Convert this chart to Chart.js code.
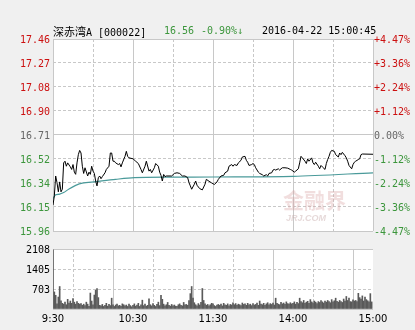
<!DOCTYPE html>
<html>
<head>
<meta charset="utf-8">
<script src="https://cdn.jsdelivr.net/npm/chart.js@4/dist/chart.umd.min.js"></script>
<style>
  html, body { margin: 0; padding: 0; background: #f0f0f0; }
  #wrap { position: relative; width: 415px; height: 330px; overflow: hidden; }
  canvas { position: absolute; left: 0; }
  #priceChart { top: 0; }
  #volChart { top: 240px; }
  .hd { position: absolute; top: 25px; font: 10px "DejaVu Sans Mono", monospace; line-height: 12px; white-space: nowrap; color: #000; }
  .cn { font-family: "Noto Sans CJK SC", sans-serif; font-size: 11px; }
  .dn { color: #3c963c; }
  .wm { position: absolute; pointer-events: none; white-space: nowrap; }
</style>
</head>
<body>
<div id="wrap">
  <canvas id="priceChart" width="415" height="240"></canvas>
  <canvas id="volChart" width="415" height="90"></canvas>
  <div class="hd" style="left:53px"><span class="cn">深赤湾</span>A [000022]</div>
  <div class="hd dn" style="left:164px">16.56</div>
  <div class="hd dn" style="left:201px">-0.90%↓</div>
  <div class="hd" style="left:262px">2016-04-22 15:00:45</div>
  <div class="wm" style="left:283px;top:184px;font:bold 21px 'Noto Sans CJK SC';color:rgba(215,160,160,0.35)">金融界</div>
  <div class="wm" style="left:286px;top:213px;font:italic bold 9px 'Liberation Sans';color:rgba(200,170,170,0.45)">JRJ.COM</div>
</div>
<script>
// 深赤湾A intraday, 2016-04-22, previous close 16.71 (+-4.47% range)
const priceMin = 15.963, priceMax = 17.457;
const volMax = 2108;

const priceTicks = ['17.46', '17.27', '17.08', '16.90', '16.71', '16.52', '16.34', '16.15', '15.96'];
const pctTicks = ['+4.47%', '+3.36%', '+2.24%', '+1.12%', '0.00%', '-1.12%', '-2.24%', '-3.36%', '-4.47%'];
const volTicks = ['2108', '1405', '703', ''];
const timeLabels = ['9:30', '10:30', '11:30', '14:00', '15:00'];

// minutes since 9:30 (lunch removed) and price
const priceMinutes = [0, 1, 2, 3, 4, 5, 6, 7, 8, 9, 10, 11, 13, 14, 15, 16, 17, 18, 19, 20,
  21, 22, 23, 24, 26, 27, 28, 29, 30, 31, 32, 33, 34, 35, 36, 37, 39, 40, 42, 43,
  44, 45, 46, 47, 49, 50, 51, 52, 54, 55, 56, 57, 60, 62, 64, 66, 67, 69, 70, 72,
  73, 74, 76, 77, 79, 80, 81, 82, 83, 84, 85, 89, 91, 93, 95, 97, 99, 101, 102, 103,
  104, 106, 107, 108, 110, 112, 114, 115, 117, 119, 121, 123, 124, 126, 128, 129, 131, 132, 134, 135,
  136, 138, 139, 141, 142, 144, 145, 146, 147, 149, 150, 151, 152, 154, 155, 157, 158, 160, 161, 162,
  164, 165, 166, 167, 169, 170, 171, 172, 174, 176, 178, 179, 181, 182, 184, 185, 186, 187, 189, 190,
  191, 192, 194, 195, 196, 197, 199, 200, 201, 202, 204, 205, 206, 207, 208, 209, 211, 212, 214, 215,
  216, 217, 219, 220, 221, 222, 224, 225, 226, 227, 229, 230, 231, 232, 240];
const priceValues = [16.165, 16.237, 16.391, 16.339, 16.268, 16.345, 16.268, 16.288, 16.493, 16.506, 16.467, 16.493, 16.462, 16.442, 16.480, 16.421, 16.404, 16.493, 16.557, 16.590,
  16.570, 16.467, 16.411, 16.455, 16.391, 16.421, 16.404, 16.467, 16.429, 16.411, 16.352, 16.314, 16.378, 16.391, 16.370, 16.386, 16.416, 16.442, 16.467, 16.570,
  16.570, 16.506, 16.506, 16.493, 16.480, 16.488, 16.462, 16.493, 16.544, 16.583, 16.544, 16.532, 16.525, 16.506, 16.488, 16.442, 16.416, 16.467, 16.506, 16.429,
  16.442, 16.416, 16.455, 16.488, 16.467, 16.421, 16.396, 16.352, 16.403, 16.386, 16.391, 16.391, 16.411, 16.416, 16.411, 16.391, 16.391, 16.378, 16.339, 16.314,
  16.288, 16.327, 16.352, 16.319, 16.293, 16.283, 16.327, 16.365, 16.350, 16.337, 16.325, 16.345, 16.365, 16.391, 16.396, 16.416, 16.429, 16.467, 16.480, 16.467,
  16.480, 16.473, 16.493, 16.513, 16.539, 16.544, 16.513, 16.498, 16.473, 16.480, 16.488, 16.480, 16.455, 16.421, 16.411, 16.401, 16.391, 16.401, 16.391, 16.411,
  16.416, 16.437, 16.442, 16.437, 16.447, 16.437, 16.447, 16.455, 16.455, 16.452, 16.442, 16.437, 16.421, 16.429, 16.447, 16.493, 16.544, 16.532, 16.506, 16.488,
  16.524, 16.506, 16.532, 16.493, 16.480, 16.498, 16.467, 16.447, 16.473, 16.462, 16.442, 16.488, 16.519, 16.544, 16.575, 16.590, 16.583, 16.557, 16.539, 16.570,
  16.557, 16.575, 16.549, 16.532, 16.506, 16.473, 16.447, 16.480, 16.498, 16.506, 16.519, 16.524, 16.557, 16.562, 16.560];

// average price line
const avgMinutes = [0, 2, 5, 8, 12, 17, 22, 32, 47, 61, 90, 120, 180, 240];
const avgValues = [16.215, 16.245, 16.25, 16.262, 16.29, 16.318, 16.335, 16.347, 16.365, 16.378, 16.382, 16.383, 16.388, 16.416];

// volume per minute, 9:30 onwards
const volumes = [
  2080, 600, 480, 180, 420, 790, 290, 200, 170, 240,
  150, 340, 210, 280, 200, 370, 240, 170, 260, 200,
  170, 190, 130, 170, 120, 240, 170, 90, 560, 280,
  150, 490, 660, 720, 400, 130, 110, 160, 90, 130,
  200, 100, 160, 120, 380, 150, 90, 140, 170, 110,
  130, 90, 180, 150, 110, 140, 90, 170, 120, 80,
  130, 180, 100, 140, 200, 90, 150, 310, 120, 170,
  100, 130, 360, 150, 110, 190, 130, 90, 160, 240,
  120, 480, 340, 170, 110, 150, 230, 130, 100, 160,
  110, 140, 100, 90, 150, 180, 130, 110, 230, 150,
  160, 130, 300, 540, 790, 380, 220, 150, 110, 190,
  140, 230, 720, 300, 180, 130, 160, 110, 150, 200,
  180, 120, 90, 140, 160, 130, 170, 110, 200, 150,
  130, 180, 110, 160, 140, 220, 150, 190, 130, 170,
  150, 120, 210, 160, 180, 130, 200, 150, 170, 120,
  190, 140, 160, 210, 130, 280, 170, 150, 200, 130,
  180, 220, 150, 190, 160, 210, 140, 380, 200, 170,
  150, 230, 180, 210, 160, 250, 190, 170, 220, 180,
  200, 250, 170, 230, 190, 380, 260, 220, 300, 200,
  240, 270, 200, 330, 250, 220, 280, 240, 190, 260,
  230, 300, 250, 210, 280, 240, 300, 260, 220, 330,
  250, 290, 380, 270, 240, 300, 260, 230, 350, 280,
  440, 300, 380, 260, 250, 320, 280, 300, 260, 550,
  400, 350, 460, 280, 420, 330, 290, 250, 540, 250
];

const RED = '#cc1010', GREEN = '#3c963c', GREY = '#666';
const GRID = '#c8c8c8';
const MONO = { family: 'DejaVu Sans Mono', size: 10 };

const plotBg = {
  id: 'plotBg',
  beforeDraw(c) {
    const a = c.chartArea, ctx = c.ctx;
    ctx.save();
    ctx.fillStyle = '#fff';
    ctx.fillRect(a.left, a.top, a.right - a.left, a.bottom - a.top);
    ctx.restore();
  }
};

const timeTicks = s => {
  s.ticks = [];
  for (let m = 0; m <= 240; m += 30) s.ticks.push({ value: m });
};
const xDash = ctx => (ctx.tick && ctx.tick.value % 60 !== 0) ? [3, 2] : [];
const priceColor = ctx => {
  const k = priceTicks.length - 1 - ctx.index;
  return k < 4 ? RED : (k === 4 ? GREY : GREEN);
};
const priceAxisTicks = s => {
  const n = priceTicks.length - 1;
  s.ticks = priceTicks.map((_, i) => ({ value: priceMin + i * (priceMax - priceMin) / n }));
};

Chart.defaults.animation = false;

new Chart(document.getElementById('priceChart'), {
  type: 'line',
  data: {
    datasets: [
      {
        data: priceMinutes.map((m, i) => ({ x: m, y: priceValues[i] })),
        borderColor: '#000', borderWidth: 1, pointRadius: 0, tension: 0
      },
      {
        data: avgMinutes.map((m, i) => ({ x: m, y: avgValues[i] })),
        borderColor: '#4a9a9a', borderWidth: 1.2, pointRadius: 0, tension: 0.3
      }
    ]
  },
  options: {
    responsive: false,
    devicePixelRatio: 1,
    layout: { padding: { top: 39, bottom: 6, left: 0, right: 0 } },
    plugins: { legend: { display: false }, tooltip: { enabled: false } },
    scales: {
      x: {
        type: 'linear', min: 0, max: 240,
        afterBuildTicks: timeTicks,
        afterFit: s => { s.height = 0; },
        ticks: { display: false },
        grid: { color: GRID, drawTicks: false },
        border: { display: false, dash: xDash }
      },
      y: {
        position: 'left', min: priceMin, max: priceMax,
        afterBuildTicks: priceAxisTicks,
        afterFit: s => { s.width = 53; },
        ticks: {
          autoSkip: false, padding: 3, labelOffset: 1, font: MONO, color: priceColor,
          callback: (v, i) => priceTicks[priceTicks.length - 1 - i]
        },
        grid: { color: GRID, drawTicks: false },
        border: { display: false, dash: ctx => (ctx.tick && ctx.index % 4 !== 0) ? [3, 2] : [] }
      },
      y2: {
        position: 'right', min: priceMin, max: priceMax,
        afterBuildTicks: priceAxisTicks,
        afterFit: s => { s.width = 42; },
        ticks: {
          autoSkip: false, padding: 1, labelOffset: 1, font: MONO, color: priceColor,
          callback: (v, i) => pctTicks[pctTicks.length - 1 - i]
        },
        grid: { drawOnChartArea: false, drawTicks: false },
        border: { display: false }
      }
    }
  },
  plugins: [plotBg]
});

new Chart(document.getElementById('volChart'), {
  type: 'bar',
  data: {
    datasets: [{
      data: volumes.map((v, i) => ({ x: i, y: v })),
      backgroundColor: '#5a5a5a',
      barThickness: 1
    }]
  },
  options: {
    responsive: false,
    devicePixelRatio: 1,
    layout: { padding: { top: 7, bottom: 0, left: 0, right: 42 } },
    plugins: { legend: { display: false }, tooltip: { enabled: false } },
    scales: {
      x: {
        type: 'linear', min: 0, max: 240, offset: false,
        afterBuildTicks: timeTicks,
        afterFit: s => { s.height = 21; },
        ticks: {
          autoSkip: false, maxRotation: 0, padding: 4, color: '#000',
          font: { family: 'DejaVu Sans', size: 10 },
          callback: v => v % 60 === 0 ? timeLabels[v / 60] : ''
        },
        grid: { color: GRID, drawTicks: false },
        border: { display: false, dash: xDash }
      },
      y: {
        min: 0, max: volMax,
        afterBuildTicks: s => { s.ticks = volTicks.map((_, i) => ({ value: i * volMax / (volTicks.length - 1) })); },
        afterFit: s => { s.width = 53; },
        ticks: {
          autoSkip: false, padding: 3, labelOffset: 1, font: MONO, color: '#000',
          callback: (v, i) => volTicks[volTicks.length - 1 - i]
        },
        grid: { color: GRID, drawTicks: false },
        border: { display: false, dash: ctx => (ctx.tick && ctx.index % 3 !== 0) ? [3, 2] : [] }
      }
    }
  },
  plugins: [plotBg]
});
</script>
</body>
</html>
